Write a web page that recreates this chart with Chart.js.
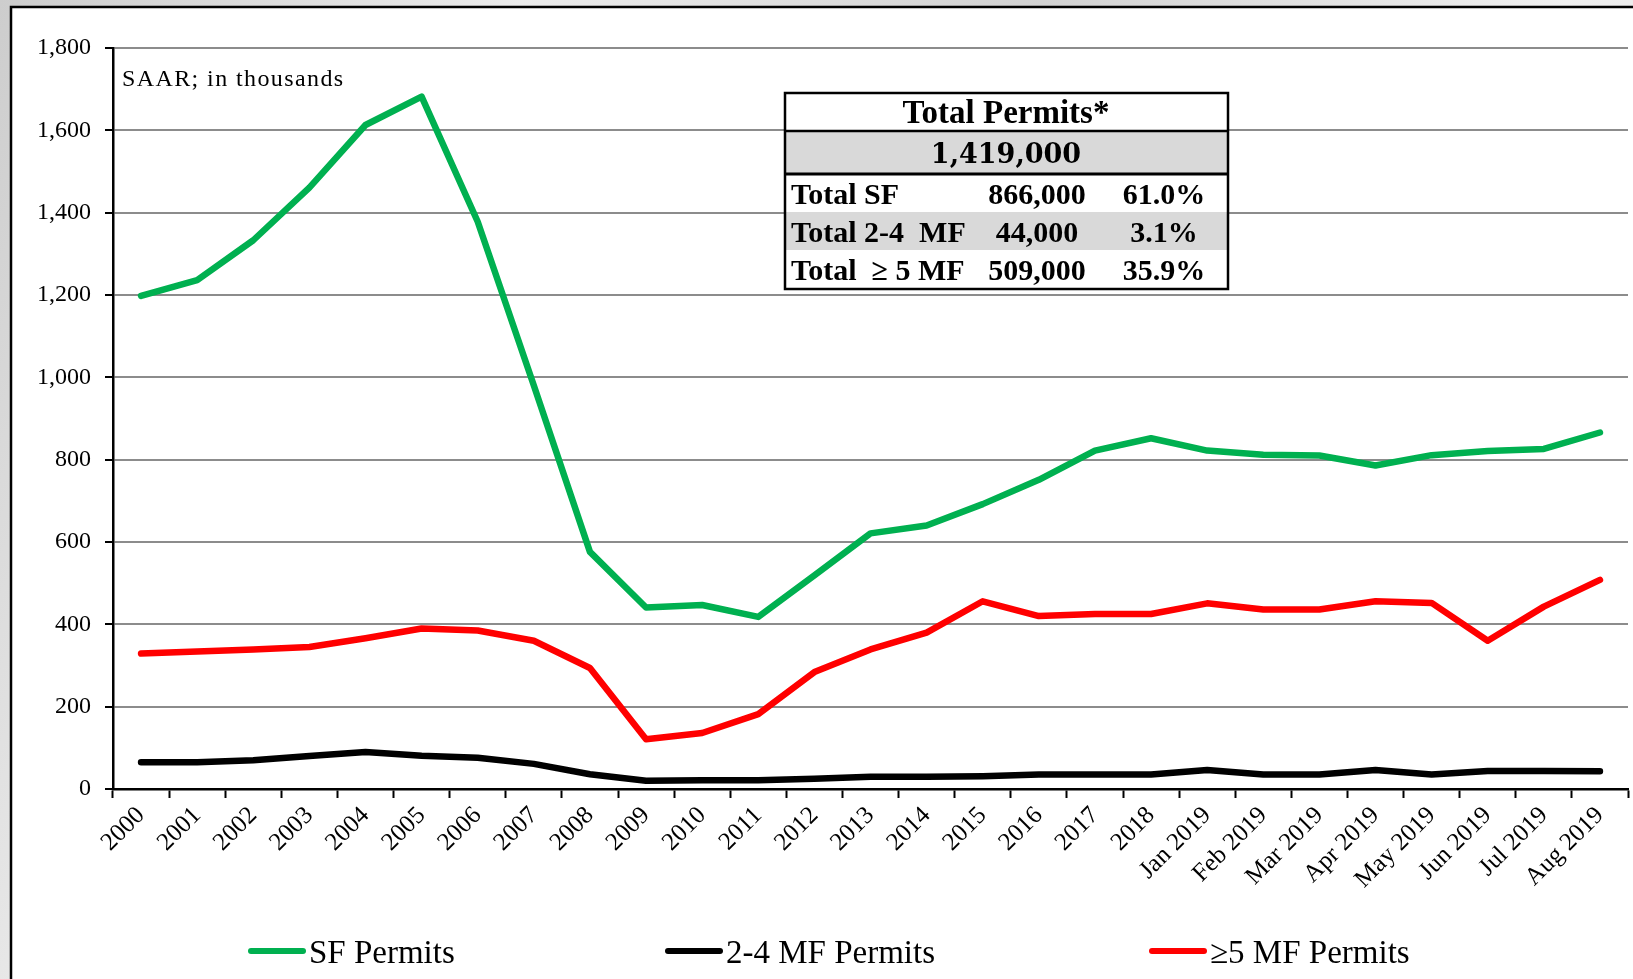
<!DOCTYPE html>
<html>
<head>
<meta charset="utf-8">
<title>Building Permits</title>
<script src="https://cdn.jsdelivr.net/npm/chart.js@4"></script>
<style>
  html, body { margin: 0; padding: 0; }
  body {
    width: 1633px;
    height: 979px;
    overflow: hidden;
    background: linear-gradient(115deg, #cdcdcd 0%, #ebebeb 25%, #d2d2d2 50%, #f0f0f0 75%, #d6d6d6 100%);
  }
  canvas { display: block; }
</style>
</head>
<body>
<canvas id="permitsChart" width="1633" height="979"></canvas>
<script>
// periods on the x axis
const periods = ['2000', '2001', '2002', '2003', '2004', '2005', '2006', '2007', '2008', '2009',
  '2010', '2011', '2012', '2013', '2014', '2015', '2016', '2017', '2018',
  'Jan 2019', 'Feb 2019', 'Mar 2019', 'Apr 2019', 'May 2019', 'Jun 2019', 'Jul 2019', 'Aug 2019'];

// SAAR, thousands
const sfPermits = [1198, 1236, 1333, 1461, 1613, 1682, 1378, 980, 576, 441,
  447, 418, 519, 621, 640, 692, 751, 822, 852,
  822, 812, 810, 786, 811, 821, 826, 866];
const mf24Permits = [65, 65, 70, 80, 90, 81, 76, 61, 36, 20,
  21, 21, 25, 30, 30, 31, 35, 35, 35,
  46, 35, 35, 46, 35, 44, 44, 43];
const mf5Permits = [329, 334, 339, 345, 366, 390, 385, 360, 294, 121,
  136, 182, 284, 339, 380, 456, 420, 425, 425,
  451, 436, 436, 456, 452, 360, 443, 508];

const yTicks = [0, 200, 400, 600, 800, 1000, 1200, 1400, 1600, 1800];

const seriesNames = ['SF Permits', '2-4 MF Permits', '\u22655 MF Permits'];
const seriesColors = ['#00b050', '#000000', '#ff0000'];

// summary box
const boxTitle = 'Total Permits*';
const boxTotal = '1,419,000';
const boxLabels = ['Total SF', 'Total 2-4  MF', 'Total  \u2265 5 MF'];
const boxCounts = ['866,000', '44,000', '509,000'];
const boxShares = ['61.0%', '3.1%', '35.9%'];

const serif = "'Liberation Serif', 'Times New Roman', serif";

const framePlugin = {
  id: 'frame',
  beforeDraw(chart) {
    const ctx = chart.ctx;
    ctx.save();
    ctx.fillStyle = '#ffffff';
    ctx.fillRect(11, 7, chart.width - 11, chart.height - 7);
    ctx.strokeStyle = '#000';
    ctx.lineWidth = 2.5;
    ctx.beginPath();
    ctx.moveTo(11, chart.height);
    ctx.lineTo(11, 7);
    ctx.lineTo(chart.width, 7);
    ctx.stroke();
    ctx.restore();
  }
};

const notesPlugin = {
  id: 'notes',
  afterDraw(chart) {
    const ctx = chart.ctx;
    ctx.save();

    // units note
    ctx.fillStyle = '#000';
    ctx.font = '24px ' + serif;
    ctx.textAlign = 'left';
    ctx.textBaseline = 'alphabetic';
    ctx.letterSpacing = '1.4px';
    ctx.fillText('SAAR; in thousands', 122, 86);
    ctx.letterSpacing = '0px';

    // summary box
    const left = 785, right = 1228;
    const rows = [93, 131, 174, 212, 250, 289];
    ctx.fillStyle = '#ffffff';
    ctx.fillRect(left, rows[0], right - left, rows[5] - rows[0]);
    ctx.fillStyle = '#d9d9d9';
    ctx.fillRect(left, rows[1], right - left, rows[2] - rows[1]);
    ctx.fillRect(left, rows[3], right - left, rows[4] - rows[3]);

    ctx.strokeStyle = '#000';
    ctx.lineWidth = 2.5;
    ctx.strokeRect(left, rows[0], right - left, rows[5] - rows[0]);
    ctx.beginPath();
    ctx.moveTo(left, rows[1]); ctx.lineTo(right, rows[1]);
    ctx.stroke();
    ctx.lineWidth = 3;
    ctx.beginPath();
    ctx.moveTo(left, rows[2]); ctx.lineTo(right, rows[2]);
    ctx.stroke();

    ctx.fillStyle = '#000';
    ctx.textBaseline = 'alphabetic';
    ctx.textAlign = 'center';
    ctx.font = 'bold 33px ' + serif;
    ctx.fillText(boxTitle, 1006, 123);
    ctx.font = "bold 27px 'DejaVu Serif', serif";
    ctx.fillText(boxTotal, 1006, 163);

    ctx.font = 'bold 30px ' + serif;
    for (let i = 0; i < boxLabels.length; i++) {
      const base = rows[i + 2] + 30;
      ctx.textAlign = 'left';
      ctx.fillText(boxLabels[i], 791, base);
      ctx.textAlign = 'center';
      ctx.fillText(boxCounts[i], 1037, base);
      ctx.fillText(boxShares[i], 1164, base);
    }

    // legend
    const legendX = [248, 665, 1149];
    ctx.font = '33px ' + serif;
    ctx.textAlign = 'left';
    chart.data.datasets.forEach((ds, i) => {
      const x = legendX[i];
      ctx.strokeStyle = ds.borderColor;
      ctx.lineWidth = 6;
      ctx.lineCap = 'round';
      ctx.beginPath();
      ctx.moveTo(x + 3, 951);
      ctx.lineTo(x + 55, 951);
      ctx.stroke();
      ctx.fillStyle = '#000';
      ctx.fillText(ds.label, x + 61, 963);
    });

    ctx.restore();
  }
};

function makeSeries(name, values, color) {
  return {
    label: name,
    data: values,
    borderColor: color,
    backgroundColor: color,
    borderWidth: 6.5,
    pointRadius: 0,
    tension: 0,
    borderJoinStyle: 'round',
    borderCapStyle: 'round',
    fill: false
  };
}

new Chart(document.getElementById('permitsChart'), {
  type: 'line',
  data: {
    labels: periods,
    datasets: [
      makeSeries(seriesNames[0], sfPermits, seriesColors[0]),
      makeSeries(seriesNames[1], mf24Permits, seriesColors[1]),
      makeSeries(seriesNames[2], mf5Permits, seriesColors[2])
    ]
  },
  options: {
    responsive: false,
    animation: false,
    events: [],
    devicePixelRatio: 1,
    layout: { padding: { top: 48, right: 5, bottom: 0, left: 0 } },
    plugins: {
      legend: { display: false },
      tooltip: { enabled: false }
    },
    scales: {
      x: {
        offset: true,
        grid: {
          offset: true,
          drawOnChartArea: false,
          tickLength: 9,
          tickColor: '#000',
          tickWidth: 2
        },
        border: { color: '#000', width: 2.5 },
        ticks: {
          autoSkip: false,
          minRotation: 45,
          maxRotation: 45,
          padding: 3,
          color: '#000',
          font: { family: serif, size: 25 }
        },
        afterFit(scale) { scale.height = 190; }
      },
      y: {
        min: yTicks[0],
        max: yTicks[yTicks.length - 1],
        afterBuildTicks(scale) { scale.ticks = yTicks.map(v => ({ value: v })); },
        grid: {
          color: '#8c8c8c',
          lineWidth: 2,
          tickLength: 8,
          tickColor: '#000',
          tickWidth: 2
        },
        border: { color: '#000', width: 2.5 },
        ticks: {
          padding: 14,
          color: '#000',
          font: { family: serif, size: 24 },
          callback: v => v.toLocaleString('en-US')
        },
        afterFit(scale) { scale.width = 113; }
      }
    }
  },
  plugins: [framePlugin, notesPlugin]
});
</script>
</body>
</html>
